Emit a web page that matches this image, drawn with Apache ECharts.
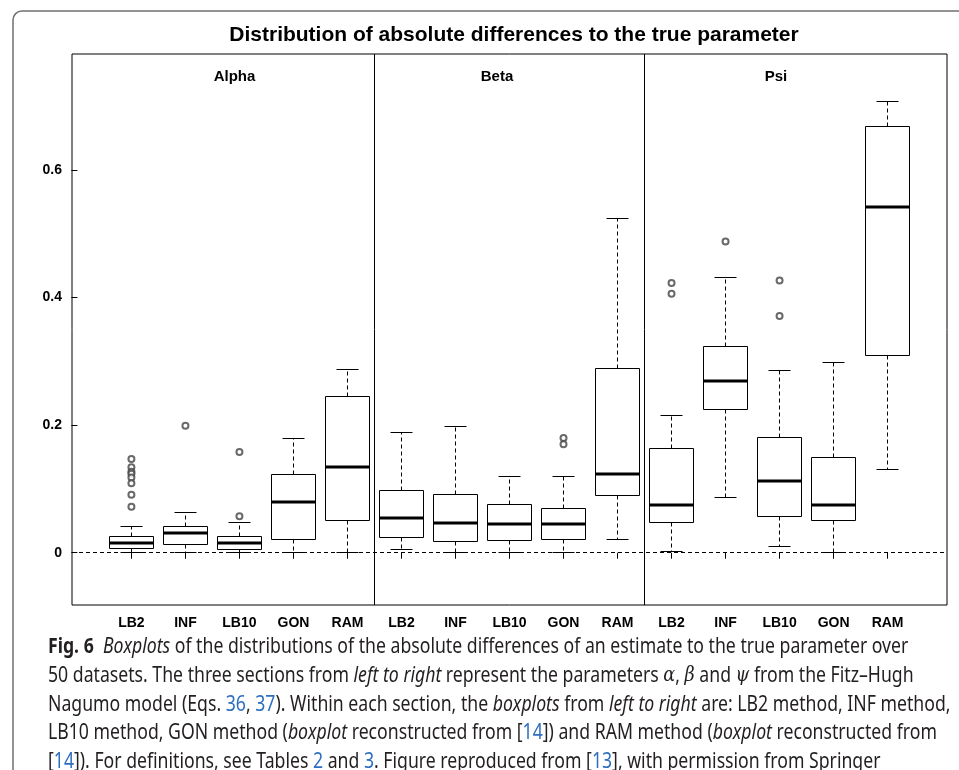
<!DOCTYPE html>
<html><head><meta charset="utf-8">
<script src="https://cdn.jsdelivr.net/npm/echarts@6/dist/echarts.min.js"></script>
<style>html,body{margin:0;padding:0;background:#fff}#c{width:959px;height:770px}</style>
</head><body><div id="c"></div><script>
// ---------- data ----------
const methods = ['LB2', 'INF', 'LB10', 'GON', 'RAM'];
const panels = ['Alpha', 'Beta', 'Psi'];
const tickLabels = methods.concat(methods, methods);
const positions = [1, 2, 3, 4, 5, 6, 7, 8, 9, 10, 11, 12, 13, 14, 15];
const yTicks = [0, 0.2, 0.4, 0.6];
const yTickLabels = ['0', '0.2', '0.4', '0.6'];
const panelSeparators = [5.5, 10.5];
const referenceLine = 0;

// box statistics, one entry per position (Alpha 1-5, Beta 6-10, Psi 11-15)
const lowerWhisker = [0, 0, 0, 0, 0,        0.005, 0, 0.001, 0, 0.020,      0.002, 0.087, 0.009, 0, 0.130];
const q1           = [0.006, 0.013, 0.005, 0.020, 0.050,   0.024, 0.017, 0.019, 0.020, 0.090,   0.047, 0.224, 0.056, 0.050, 0.309];
const median       = [0.016, 0.031, 0.016, 0.079, 0.134,   0.054, 0.047, 0.045, 0.045, 0.124,   0.075, 0.270, 0.113, 0.075, 0.542];
const q3           = [0.026, 0.041, 0.026, 0.123, 0.245,   0.097, 0.092, 0.076, 0.070, 0.289,   0.164, 0.324, 0.181, 0.150, 0.668];
const upperWhisker = [0.041, 0.063, 0.047, 0.179, 0.288,   0.188, 0.198, 0.120, 0.119, 0.524,   0.215, 0.431, 0.286, 0.298, 0.707];

const outlierPos = [1, 1, 1, 1, 1, 1, 1, 1, 2, 3, 3, 9, 9, 11, 11, 12, 13, 13];
const outlierVal = [0.147, 0.134, 0.127, 0.124, 0.118, 0.109, 0.091, 0.072, 0.199, 0.057, 0.158, 0.180, 0.170, 0.423, 0.406, 0.488, 0.427, 0.371];

const titleText = 'Distribution of absolute differences to the true parameter';

// caption (text only)
const captionLines = [
  [['b', 'Fig. 6'], ['n', '  '], ['i', 'Boxplots'], ['n', ' of the distributions of the absolute differences of an estimate to the true parameter over']],
  [['n', '50 datasets. The three sections from '], ['i', 'left to right'], ['n', ' represent the parameters '], ['m', 'α'], ['n', ', '], ['m', 'β'], ['n', ' and '], ['m', 'ψ'], ['n', ' from the Fitz–Hugh']],
  [['n', 'Nagumo model (Eqs. '], ['l', '36'], ['n', ', '], ['l', '37'], ['n', '). Within each section, the '], ['i', 'boxplots'], ['n', ' from '], ['i', 'left to right'], ['n', ' are: LB2 method, INF method,']],
  [['n', 'LB10 method, GON method ('], ['i', 'boxplot'], ['n', ' reconstructed from ['], ['l', '14'], ['n', ']) and RAM method ('], ['i', 'boxplot'], ['n', ' reconstructed from']],
  [['n', '['], ['l', '14'], ['n', ']). For definitions, see Tables '], ['l', '2'], ['n', ' and '], ['l', '3'], ['n', '. Figure reproduced from ['], ['l', '13'], ['n', '], with permission from Springer']]
];

// ---------- layout / style ----------
const AX_FONT = '"Liberation Sans", Arial, sans-serif';
const CAP_SIZE = 21;
const capFonts = {
  n: CAP_SIZE + 'px "Noto Sans"',
  l: CAP_SIZE + 'px "Noto Sans"',
  b: 'bold ' + CAP_SIZE + 'px "Noto Sans"',
  i: 'italic ' + CAP_SIZE + 'px "Noto Sans"',
  m: 'italic ' + CAP_SIZE + 'px "DejaVu Serif"'
};
const capColor = '#231f20';
const linkColor = '#2f6fc0';
const capLeft = 48;
const capRight = [912, 906, 947, 947, 878];
const capY = [647, 676, 705, 733, 762];

const mctx = document.createElement('canvas').getContext('2d');
function measure(segs) {
  let w = 0;
  segs.forEach(([k, t]) => { mctx.font = capFonts[k]; w += mctx.measureText(t).width; });
  return w;
}
let ratios = captionLines.map((segs, i) => (capRight[i] - capLeft) / measure(segs));
const capScale = ratios.reduce((a, b) => a + b, 0) / ratios.length;

const rich = {
  n: { fontFamily: 'Noto Sans', fontSize: CAP_SIZE, fill: capColor },
  l: { fontFamily: 'Noto Sans', fontSize: CAP_SIZE, fill: linkColor },
  b: { fontFamily: 'Noto Sans', fontSize: CAP_SIZE, fontWeight: 'bold', fill: capColor },
  i: { fontFamily: 'Noto Sans', fontSize: CAP_SIZE, fontStyle: 'italic', fill: capColor },
  m: { fontFamily: 'DejaVu Serif', fontSize: CAP_SIZE, fontStyle: 'italic', fill: capColor }
};

const captionGraphics = captionLines.map((segs, i) => ({
  type: 'text',
  x: capLeft, y: capY[i], scaleX: capScale,
  style: {
    text: segs.map(([k, t]) => '{' + k + '|' + t + '}').join(''),
    rich: rich,
    fill: capColor,
    textVerticalAlign: 'middle',
    textAlign: 'left'
  }
}));

const panelLabelX = [234.5, 497, 776];

const chart = echarts.init(document.getElementById('c'), null, { renderer: 'canvas' });

const boxData = positions.map((p, i) => [p, lowerWhisker[i], q1[i], median[i], q3[i], upperWhisker[i]]);
const outData = outlierPos.map((p, i) => [p, outlierVal[i]]);

function cr(v) { return Math.round(v - 0.5) + 0.5; }

function renderBox(params, api) {
  const x = api.value(0);
  const lw = api.value(1), b1 = api.value(2), md = api.value(3), b3 = api.value(4), uw = api.value(5);
  const half = 0.4, capHalf = 0.2;
  const xl = cr(api.coord([x - half, 0])[0]);
  const xr = cr(api.coord([x + half, 0])[0]);
  const xc = cr(api.coord([x, 0])[0]);
  const cl = cr(api.coord([x - capHalf, 0])[0]);
  const crr = cr(api.coord([x + capHalf, 0])[0]);
  const yq1 = cr(api.coord([x, b1])[1]);
  const yq3 = cr(api.coord([x, b3])[1]);
  const ymd = Math.round(api.coord([x, md])[1]);
  const ylw = cr(api.coord([x, lw])[1]);
  const yuw = cr(api.coord([x, uw])[1]);
  const dash = { stroke: '#000', lineWidth: 1, lineDash: [4, 3] };
  const solid = { stroke: '#000', lineWidth: 1 };
  return {
    type: 'group',
    children: [
      { type: 'line', shape: { x1: xc, y1: yq3, x2: xc, y2: yuw }, style: dash },
      { type: 'line', shape: { x1: xc, y1: yq1, x2: xc, y2: ylw }, style: dash },
      { type: 'line', shape: { x1: cl, y1: yuw, x2: crr, y2: yuw }, style: solid },
      { type: 'line', shape: { x1: cl, y1: ylw, x2: crr, y2: ylw }, style: solid },
      { type: 'rect', shape: { x: xl, y: yq3, width: xr - xl, height: yq1 - yq3 }, style: { fill: '#fff', stroke: '#000', lineWidth: 1 } },
      { type: 'line', shape: { x1: xl, y1: ymd, x2: xr, y2: ymd }, style: { stroke: '#000', lineWidth: 3 } }
    ]
  };
}

const option = {
  backgroundColor: '#fff',
  animation: false,
  grid: { left: 72, right: 12, top: 54, bottom: 165, show: true, borderColor: '#000', borderWidth: 1, backgroundColor: 'transparent' },
  xAxis: {
    type: 'value', min: -0.1, max: 16.1,
    axisLine: { show: false }, splitLine: { show: false },
    axisTick: { show: true, customValues: positions, length: 6, lineStyle: { color: '#000' } },
    axisLabel: {
      customValues: positions, margin: 11,
      formatter: v => tickLabels[Math.round(v) - 1] || '',
      fontFamily: AX_FONT, fontWeight: 'bold', fontSize: 14, color: '#000'
    }
  },
  yAxis: {
    type: 'value', min: -0.082, max: 0.782,
    axisLine: { show: false }, splitLine: { show: false },
    axisTick: { show: true, customValues: yTicks, length: 6, lineStyle: { color: '#000' } },
    axisLabel: {
      customValues: yTicks, margin: 10,
      formatter: v => { const k = yTicks.findIndex(t => Math.abs(t - v) < 1e-9); return k >= 0 ? yTickLabels[k] : ''; },
      fontFamily: AX_FONT, fontWeight: 'bold', fontSize: 14, color: '#000'
    }
  },
  graphic: [
    { type: 'rect', z: -10, shape: { x: 13, y: 11, width: 1200, height: 1200, r: 9 }, style: { fill: 'none', stroke: '#707070', lineWidth: 1.5 } },
    { type: 'text', x: 514, y: 35, style: { text: titleText, fontFamily: AX_FONT, fontWeight: 'bold', fontSize: 21, fill: '#000', textAlign: 'center', textVerticalAlign: 'middle' } }
  ].concat(panels.map((p, i) => ({
    type: 'text', x: panelLabelX[i], y: 77,
    style: { text: p, fontFamily: AX_FONT, fontWeight: 'bold', fontSize: 15, fill: '#000', textAlign: 'center', textVerticalAlign: 'middle' }
  }))).concat(captionGraphics),
  series: [
    {
      type: 'custom', renderItem: renderBox, data: boxData,
      encode: { x: 0, y: [1, 2, 3, 4, 5] }, z: 3
    },
    {
      type: 'scatter', data: outData, symbol: 'emptyCircle', symbolSize: 6,
      itemStyle: { color: '#444', borderColor: '#444', borderWidth: 0.8 }, z: 4,
      markLine: {
        silent: true, symbol: 'none', animation: false,
        label: { show: false },
        data: panelSeparators.map(v => ({ xAxis: v, lineStyle: { type: 'solid', color: '#000', width: 1 } }))
          .concat([{ yAxis: referenceLine, lineStyle: { type: [4, 3], color: '#000', width: 1 } }])
      }
    }
  ]
};
chart.setOption(option);
</script></body></html>
